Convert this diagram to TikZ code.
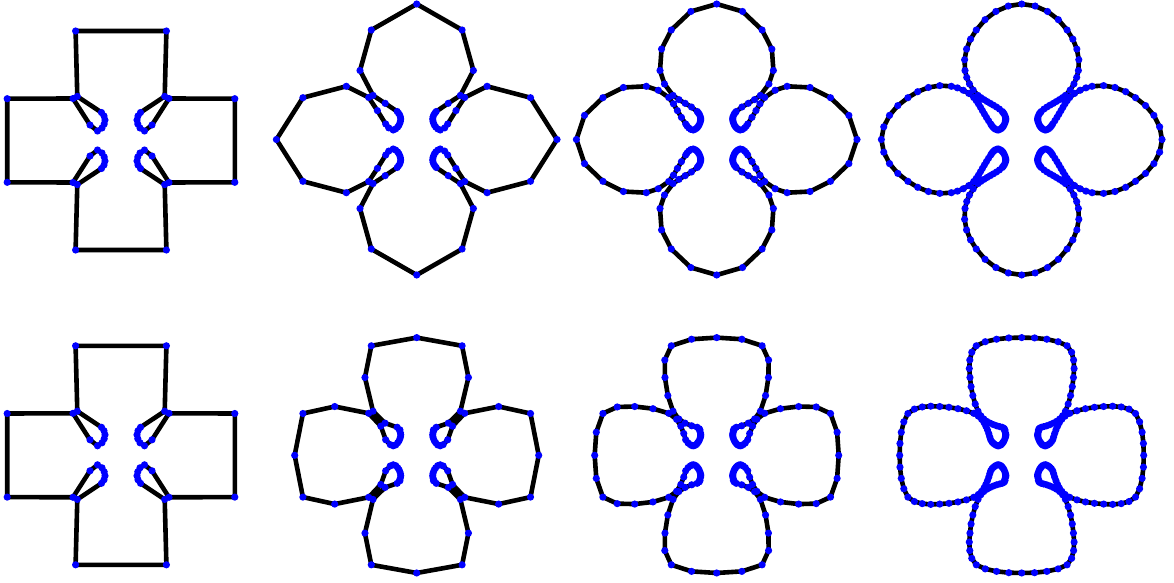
\documentclass[tikz,border=0pt]{standalone}
\tikzset{
  sdline/.style={line width=2.3pt, line join=round, line cap=round, black},
  sddot/.style={fill=blue}
}
\ExplSyntaxOn
\int_new:N \l_sd_n_int
\fp_new:N \l_sd_xa_fp \fp_new:N \l_sd_ya_fp
\fp_new:N \l_sd_xb_fp \fp_new:N \l_sd_yb_fp
\fp_new:N \l_sd_xc_fp \fp_new:N \l_sd_yc_fp
\fp_new:N \l_sd_xd_fp \fp_new:N \l_sd_yd_fp
\fp_new:N \l_sd_dx_fp \fp_new:N \l_sd_dy_fp
\fp_new:N \l_sd_L_fp
\fp_new:N \l_sd_ka_fp \fp_new:N \l_sd_kb_fp
\fp_new:N \l_sd_h_fp
\tl_new:N \l_sd_path_tl
\tl_new:N \l_sd_dots_tl
\clist_const:Nn \c_sd_px_clist { -45.4, -43.7, -19.5, -17.0, -16.0, -16.8, -19.0, -23.5, -31.0, -48.0, -113.8 }
\clist_const:Nn \c_sd_py_clist { -109.5, -44.1, -28.0, -24.5, -20.5, -16.5, -12.5, -9.5, -15.5, -42.0, -41.8 }

\cs_new:Npn \sd_x:nn #1#2 { \use:c { g_sd_#1_#2_x } }
\cs_new:Npn \sd_y:nn #1#2 { \use:c { g_sd_#1_#2_y } }
\cs_new:Npn \sd_n:n #1 { \use:c { g_sd_#1_n } }
\cs_new_protected:Npn \sd_set:nnnn #1#2#3#4
  {
    \cs_gset:cpx { g_sd_#1_#2_x } { \fp_eval:n { #3 } }
    \cs_gset:cpx { g_sd_#1_#2_y } { \fp_eval:n { #4 } }
  }
\cs_new_protected:Npn \sd_base:n #1
  {
    \int_step_inline:nn { 11 }
      {
        \sd_set:nnnn {#1} { \int_eval:n { ##1 - 1 } }
          { \clist_item:Nn \c_sd_px_clist {##1} } { \clist_item:Nn \c_sd_py_clist {##1} }
        \sd_set:nnnn {#1} { \int_eval:n { 22 - ##1 } }
          { \clist_item:Nn \c_sd_px_clist {##1} } { - ( \clist_item:Nn \c_sd_py_clist {##1} ) }
        \sd_set:nnnn {#1} { \int_eval:n { 21 + ##1 } }
          { - ( \clist_item:Nn \c_sd_px_clist {##1} ) } { - ( \clist_item:Nn \c_sd_py_clist {##1} ) }
        \sd_set:nnnn {#1} { \int_eval:n { 44 - ##1 } }
          { - ( \clist_item:Nn \c_sd_px_clist {##1} ) } { \clist_item:Nn \c_sd_py_clist {##1} }
      }
    \cs_gset:cpx { g_sd_#1_n } { 44 }
  }
\cs_new_protected:Npn \sd_subdiv:nnN #1#2#3
  {
    \int_set:Nn \l_sd_n_int { \sd_n:n {#1} }
    \int_step_inline:nnn { 0 } { \l_sd_n_int - 1 }
      {
        \sd_set:nnnn {#2} { \int_eval:n { 2 * ##1 } }
          { \sd_x:nn {#1} {##1} } { \sd_y:nn {#1} {##1} }
        #3 {#1} {#2}
          { \int_eval:n { \int_mod:nn { ##1 - 1 + \l_sd_n_int } { \l_sd_n_int } } }
          { ##1 }
          { \int_eval:n { \int_mod:nn { ##1 + 1 } { \l_sd_n_int } } }
          { \int_eval:n { \int_mod:nn { ##1 + 2 } { \l_sd_n_int } } }
          { \int_eval:n { 2 * ##1 + 1 } }
      }
    \cs_gset:cpx { g_sd_#2_n } { \int_eval:n { 2 * \l_sd_n_int } }
  }
\cs_new_protected:Npn \sd_lin:nnnnnnn #1#2#3#4#5#6#7
  {
    \sd_set:nnnn {#2} {#7}
      { ( 9 * ( \sd_x:nn {#1} {#4} + \sd_x:nn {#1} {#5} ) - \sd_x:nn {#1} {#3} - \sd_x:nn {#1} {#6} ) / 16 }
      { ( 9 * ( \sd_y:nn {#1} {#4} + \sd_y:nn {#1} {#5} ) - \sd_y:nn {#1} {#3} - \sd_y:nn {#1} {#6} ) / 16 }
  }
\cs_new:Npn \sd_h:nn #1#2
  { ( (#1) * (#2)^2 / 4 ) / ( 1 + sqrt ( max ( 0 , 1 - ( (#1) * (#2) / 2 )^2 ) ) ) }
\cs_new_protected:Npn \sd_circ:nnnnnnn #1#2#3#4#5#6#7
  {
    \fp_set:Nn \l_sd_xa_fp { \sd_x:nn {#1} {#3} }
    \fp_set:Nn \l_sd_ya_fp { \sd_y:nn {#1} {#3} }
    \fp_set:Nn \l_sd_xb_fp { \sd_x:nn {#1} {#4} }
    \fp_set:Nn \l_sd_yb_fp { \sd_y:nn {#1} {#4} }
    \fp_set:Nn \l_sd_xc_fp { \sd_x:nn {#1} {#5} }
    \fp_set:Nn \l_sd_yc_fp { \sd_y:nn {#1} {#5} }
    \fp_set:Nn \l_sd_xd_fp { \sd_x:nn {#1} {#6} }
    \fp_set:Nn \l_sd_yd_fp { \sd_y:nn {#1} {#6} }
    \fp_set:Nn \l_sd_dx_fp { \l_sd_xc_fp - \l_sd_xb_fp }
    \fp_set:Nn \l_sd_dy_fp { \l_sd_yc_fp - \l_sd_yb_fp }
    \fp_set:Nn \l_sd_L_fp { sqrt ( \l_sd_dx_fp ^ 2 + \l_sd_dy_fp ^ 2 ) }
    \fp_set:Nn \l_sd_ka_fp
      { 2 * ( ( \l_sd_xb_fp - \l_sd_xa_fp ) * \l_sd_dy_fp - ( \l_sd_yb_fp - \l_sd_ya_fp ) * \l_sd_dx_fp )
        / ( sqrt ( ( \l_sd_xb_fp - \l_sd_xa_fp ) ^ 2 + ( \l_sd_yb_fp - \l_sd_ya_fp ) ^ 2 )
            * \l_sd_L_fp
            * sqrt ( ( \l_sd_xc_fp - \l_sd_xa_fp ) ^ 2 + ( \l_sd_yc_fp - \l_sd_ya_fp ) ^ 2 ) ) }
    \fp_set:Nn \l_sd_kb_fp
      { 2 * ( \l_sd_dx_fp * ( \l_sd_yd_fp - \l_sd_yc_fp ) - \l_sd_dy_fp * ( \l_sd_xd_fp - \l_sd_xc_fp ) )
        / ( \l_sd_L_fp
            * sqrt ( ( \l_sd_xd_fp - \l_sd_xc_fp ) ^ 2 + ( \l_sd_yd_fp - \l_sd_yc_fp ) ^ 2 )
            * sqrt ( ( \l_sd_xd_fp - \l_sd_xb_fp ) ^ 2 + ( \l_sd_yd_fp - \l_sd_yb_fp ) ^ 2 ) ) }
    \fp_set:Nn \l_sd_h_fp
      { ( \sd_h:nn { \l_sd_ka_fp } { \l_sd_L_fp } + \sd_h:nn { \l_sd_kb_fp } { \l_sd_L_fp } ) / 2 }
    \sd_set:nnnn {#2} {#7}
      { ( \l_sd_xb_fp + \l_sd_xc_fp ) / 2 + \l_sd_h_fp * \l_sd_dy_fp / \l_sd_L_fp }
      { ( \l_sd_yb_fp + \l_sd_yc_fp ) / 2 - \l_sd_h_fp * \l_sd_dx_fp / \l_sd_L_fp }
  }
\cs_new_protected:Npn \sd_draw:nnn #1#2#3
  {
    \tl_clear:N \l_sd_path_tl
    \tl_clear:N \l_sd_dots_tl
    \int_step_inline:nnn { 0 } { \sd_n:n {#1} - 1 }
      {
        \tl_put_right:Nx \l_sd_path_tl
          { ( \fp_eval:n { round ( \sd_x:nn {#1} {##1} + #2 , 2 ) } ,
              \fp_eval:n { round ( \sd_y:nn {#1} {##1} + #3 , 2 ) } ) -- }
        \tl_put_right:Nx \l_sd_dots_tl
          { ( \fp_eval:n { round ( \sd_x:nn {#1} {##1} + #2 , 2 ) } ,
              \fp_eval:n { round ( \sd_y:nn {#1} {##1} + #3 , 2 ) } ) ~ circle ~ [ radius = 1.8pt ] ~ }
      }
    \tl_put_right:Nn \l_sd_path_tl { cycle }
    \use:x { \exp_not:N \draw [ sdline ] \exp_not:V \l_sd_path_tl ; }
    \use:x { \exp_not:N \fill [ sddot ] \exp_not:V \l_sd_dots_tl ; }
  }
\cs_new_protected:Npn \SDcompute
  {
    \sd_base:n { z }
    \sd_subdiv:nnN { z } { la } \sd_lin:nnnnnnn
    \sd_subdiv:nnN { la } { lb } \sd_lin:nnnnnnn
    \sd_subdiv:nnN { lb } { lc } \sd_lin:nnnnnnn
    \sd_subdiv:nnN { z } { ca } \sd_circ:nnnnnnn
    % first-level points of the outer lobes, as placed in the reference
    \sd_set:nnnn { ca } { 87 } { 0 } { -135.5 }
    \sd_set:nnnn { ca } { 1 } { -56.7 } { -69 }
    \sd_set:nnnn { ca } { 19 } { -70.4 } { -53.2 }
    \sd_set:nnnn { ca } { 21 } { -140.3 } { 0 }
    \sd_set:nnnn { ca } { 23 } { -70.4 } { 53.2 }
    \sd_set:nnnn { ca } { 41 } { -56.7 } { 69 }
    \sd_set:nnnn { ca } { 43 } { 0 } { 135.5 }
    \sd_set:nnnn { ca } { 45 } { 56.7 } { 69 }
    \sd_set:nnnn { ca } { 63 } { 70.4 } { 53.2 }
    \sd_set:nnnn { ca } { 65 } { 140.3 } { 0 }
    \sd_set:nnnn { ca } { 67 } { 70.4 } { -53.2 }
    \sd_set:nnnn { ca } { 85 } { 56.7 } { -69 }
    \sd_subdiv:nnN { ca } { cb } \sd_circ:nnnnnnn
    \sd_subdiv:nnN { cb } { cc } \sd_circ:nnnnnnn
  }
\cs_new_protected:Npn \SDdraw #1#2#3 { \sd_draw:nnn {#1} {#2} {#3} }
\ExplSyntaxOff
\begin{document}
\begin{tikzpicture}[x=0.5pt, y=-0.5pt]
\useasboundingbox[fill=white] (0,0) rectangle (1174,583);
\SDcompute
% top row: circle-preserving scheme
\SDdraw{z}{121}{140.5}
\SDdraw{ca}{416.7}{139.5}
\SDdraw{cb}{716.7}{139.5}
\SDdraw{cc}{1021.7}{139.5}
% bottom row: linear four-point scheme
\SDdraw{z}{121}{455.3}
\SDdraw{la}{416.7}{455.3}
\SDdraw{lb}{716.7}{455.3}
\SDdraw{lc}{1021.7}{455.3}
\end{tikzpicture}
\end{document}
